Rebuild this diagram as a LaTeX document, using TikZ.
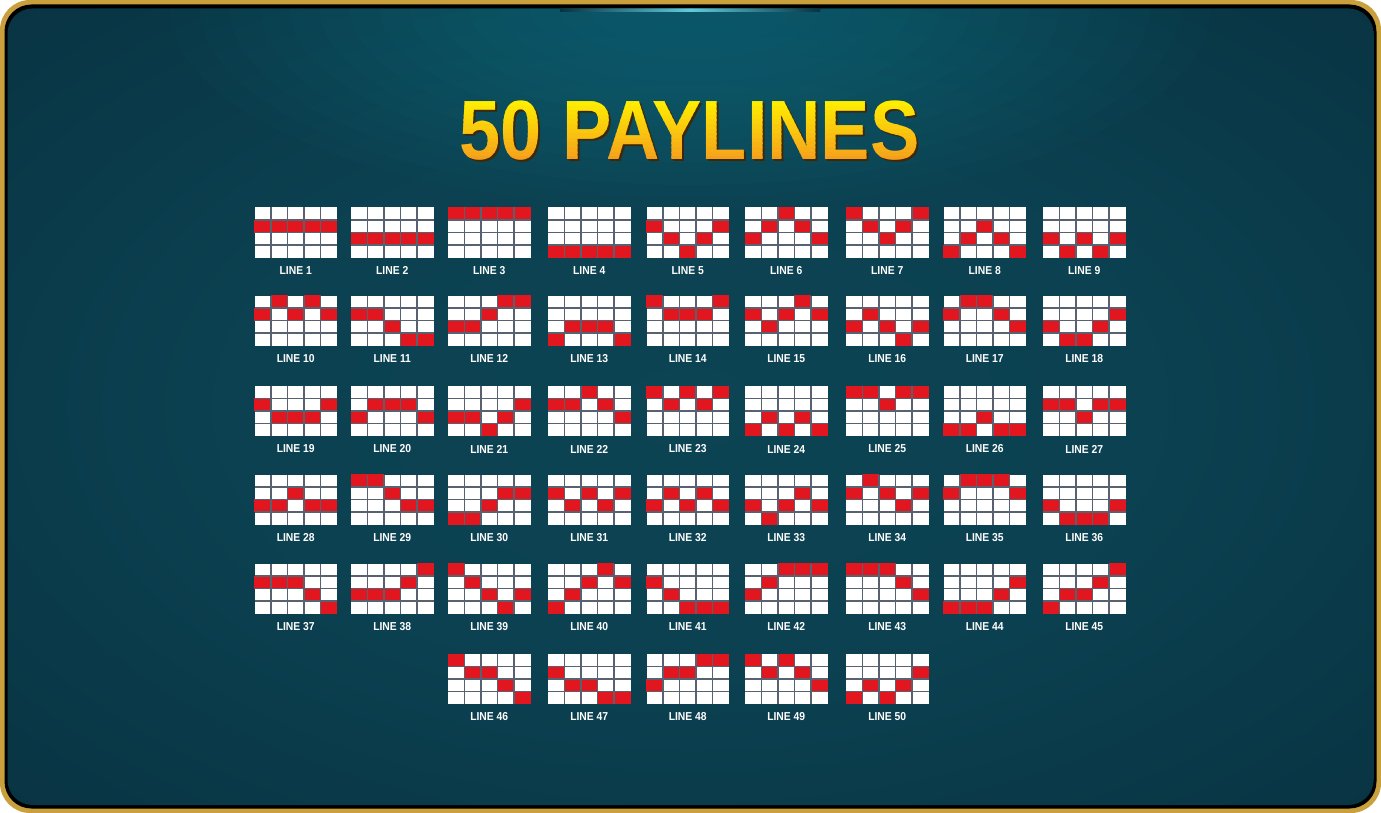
\documentclass[tikz,border=0pt]{standalone}
\usepackage{fontspec}
\setmainfont{Liberation Sans}
\newfontfamily\titlefam{Liberation Sans}
\definecolor{gold}{HTML}{C9A03C}
\definecolor{bgin}{HTML}{0C4454}
\definecolor{bgmid}{HTML}{083241}
\definecolor{bgout}{HTML}{041D27}
\definecolor{payred}{HTML}{E2161F}
\definecolor{gridgray}{HTML}{586170}
\definecolor{tyellow}{HTML}{FFF200}
\definecolor{torange}{HTML}{F5A01C}
\definecolor{tshadowc}{HTML}{3E2805}
\definecolor{glow}{HTML}{22B5CA}
\pgfdeclareradialshading{bgshade}{\pgfpoint{0bp}{0bp}}{color(0bp)=(bgin); color(18bp)=(bgin!80!bgmid); color(38bp)=(bgmid); color(58bp)=(bgout); color(80bp)=(bgout)}
\newcommand{\pl}[4]{%
 \begin{scope}[shift={(#2,#3)}]
  \fill[white] (0,0) rectangle (82.5,50);
  \foreach \r [count=\c from 0] in {#4}
    \fill[payred] ({\c*16.5-0.4},{(\r-1)*12.5-0.4}) rectangle ++(17.3,13.3);
  \foreach \i in {1,...,4} \draw[cellgrid] ({\i*16.5},0) -- ({\i*16.5},50);
  \foreach \j in {1,2,3} \draw[cellgrid] (0,{\j*12.5}) -- (82.5,{\j*12.5});
  \node[lbl] (L#1) at (41.25,63) {\scalebox{0.9}[1]{LINE #1}};
 \end{scope}}
\begin{document}
\begin{tikzpicture}[x=1pt,y=-1pt,
  cellgrid/.style={draw=gridgray,line width=1.7pt},
  lbl/.style={text=white,font=\bfseries\fontsize{11.5}{12}\selectfont,inner sep=0pt},
  titlestyle/.style={font=\titlefam\bfseries\fontsize{84}{90}\selectfont,inner sep=0pt,anchor=base}]
\useasboundingbox (0,0) rectangle (1381,813);
\fill[white] (0,0) rectangle (1381,813);
\fill[gold, rounded corners=30pt] (0,0) rectangle (1381,813);
\fill[black, rounded corners=27pt] (4.5,4.5) rectangle (1376.5,808.5);
\shade[shading=bgshade, rounded corners=25pt] (7.5,8.5) rectangle (1373.5,805);
\begin{scope}
 \clip[rounded corners=25pt] (7.5,8.5) rectangle (1373.5,805);
 \foreach \k in {0,...,15} {
   \pgfmathsetmacro\rx{520-\k*30}
   \pgfmathsetmacro\ry{200-\k*11.5}
   \fill[glow, opacity=0.018] (690,8) ellipse [x radius=\rx, y radius=\ry];
 }
 \shade[left color=bgmid, right color=bgmid, middle color=glow!70!white] (560,8.5) rectangle (820,11.5);
\end{scope}
% title
\node[titlestyle, text=tshadowc] (tshadow) at (691.5,161.5) {\scalebox{0.88}[1]{50 PAYLINES}};
\foreach \i in {0,...,13} {
  \pgfmathsetmacro\ya{\i==0 ? 70 : 97+\i*4.6}
  \pgfmathsetmacro\yb{\i==13 ? 190 : 97+(\i+1)*4.6+0.4}
  \pgfmathtruncatemacro\pct{\i*100/13}
  \begin{scope}
   \clip (400,\ya) rectangle (990,\yb);
   \node[titlestyle, text=torange!\pct!tyellow] (t\i) at (689.5,160) {\scalebox{0.88}[1]{50 PAYLINES}};
  \end{scope}
}
% row 1
\pl{1}{254.5}{207.5}{2,2,2,2,2}
\pl{2}{351}{207.5}{3,3,3,3,3}
\pl{3}{448}{207.5}{1,1,1,1,1}
\pl{4}{548}{207.5}{4,4,4,4,4}
\pl{5}{646.5}{207.5}{2,3,4,3,2}
\pl{6}{745}{207.5}{3,2,1,2,3}
\pl{7}{846}{207.5}{1,2,3,2,1}
\pl{8}{943.5}{207.5}{4,3,2,3,4}
\pl{9}{1043}{207.5}{3,4,3,4,3}
% row 2
\pl{10}{254.5}{295.5}{2,1,2,1,2}
\pl{11}{351}{295.5}{2,2,3,4,4}
\pl{12}{448}{295.5}{3,3,2,1,1}
\pl{13}{548}{295.5}{4,3,3,3,4}
\pl{14}{646.5}{295.5}{1,2,2,2,1}
\pl{15}{745}{295.5}{2,3,2,1,2}
\pl{16}{846}{295.5}{3,2,3,4,3}
\pl{17}{943.5}{295.5}{2,1,1,2,3}
\pl{18}{1043}{295.5}{3,4,4,3,2}
% row 3
\pl{19}{254.5}{386}{2,3,3,3,2}
\pl{20}{351}{386}{3,2,2,2,3}
\pl{21}{448}{386}{3,3,4,3,2}
\pl{22}{548}{386}{2,2,1,2,3}
\pl{23}{646.5}{386}{1,2,1,2,1}
\pl{24}{745}{386}{4,3,4,3,4}
\pl{25}{846}{386}{1,1,2,1,1}
\pl{26}{943.5}{386}{4,4,3,4,4}
\pl{27}{1043}{386}{2,2,3,2,2}
% row 4
\pl{28}{254.5}{474.5}{3,3,2,3,3}
\pl{29}{351}{474.5}{1,1,2,3,3}
\pl{30}{448}{474.5}{4,4,3,2,2}
\pl{31}{548}{474.5}{2,3,2,3,2}
\pl{32}{646.5}{474.5}{3,2,3,2,3}
\pl{33}{745}{474.5}{3,4,3,2,3}
\pl{34}{846}{474.5}{2,1,2,3,2}
\pl{35}{943.5}{474.5}{2,1,1,1,2}
\pl{36}{1043}{474.5}{3,4,4,4,3}
% row 5
\pl{37}{254.5}{563.5}{2,2,2,3,4}
\pl{38}{351}{563.5}{3,3,3,2,1}
\pl{39}{448}{563.5}{1,2,3,4,3}
\pl{40}{548}{563.5}{4,3,2,1,2}
\pl{41}{646.5}{563.5}{2,3,4,4,4}
\pl{42}{745}{563.5}{3,2,1,1,1}
\pl{43}{846}{563.5}{1,1,1,2,3}
\pl{44}{943.5}{563.5}{4,4,4,3,2}
\pl{45}{1043}{563.5}{4,3,3,2,1}
% row 6
\pl{46}{448}{654}{1,2,2,3,4}
\pl{47}{548}{654}{2,3,3,4,4}
\pl{48}{646.5}{654}{3,2,2,1,1}
\pl{49}{745}{654}{1,2,1,2,3}
\pl{50}{846}{654}{4,3,4,3,2}
\end{tikzpicture}
\end{document}
